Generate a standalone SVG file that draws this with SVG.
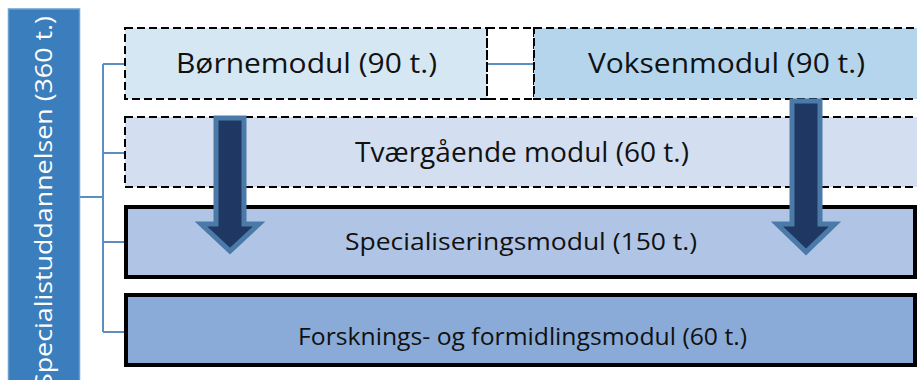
<svg xmlns="http://www.w3.org/2000/svg" width="917" height="380" viewBox="0 0 917 380">
<style>
.dash{stroke:#000;stroke-width:2;stroke-dasharray:8 4}
.solid{stroke:#000;stroke-width:4}
.lbl{font-family:"Open Sans","Noto Sans",sans-serif;fill:#111;text-anchor:middle}
.conn{fill:none;stroke:#5b8ec2;stroke-width:2}
.arrow{fill:#1f3763;stroke:#4c7aa8;stroke-width:5;stroke-linejoin:miter}
</style>
<rect width="917" height="380" fill="#fff"/>
<g id="connectors">
<path class="conn" d="M80 197 H103 M103 64 V332 M103 64 H125 M103 153 H125 M103 242 H125 M103 332 H125 M487 64 H534"/>
</g>
<g id="node-root">
<rect x="8.5" y="9" width="71" height="380" fill="#3a7ebd" stroke="#6a9fd0" stroke-width="1.5"/>
<text class="lbl" transform="translate(52,202) rotate(-90)" style="fill:#fff" font-size="24" textLength="372" lengthAdjust="spacingAndGlyphs" x="0" y="0">Specialistuddannelsen (360 t.)</text>
</g>
<g id="node-borne">
<rect class="dash" x="125" y="28" width="362" height="71" fill="#d6e7f4"/>
<text class="lbl" x="306.5" y="73" font-size="27" textLength="261" lengthAdjust="spacingAndGlyphs">Børnemodul (90 t.)</text>
</g>
<g id="node-gap">
<rect class="dash" x="487" y="28" width="47" height="71" fill="none"/>
</g>
<g id="node-voksen">
<rect class="dash" x="534" y="28" width="400" height="71" fill="#b5d5ec"/>
<text class="lbl" x="726.5" y="73" font-size="27" textLength="277" lengthAdjust="spacingAndGlyphs">Voksenmodul (90 t.)</text>
</g>
<g id="node-tvaer">
<rect class="dash" x="125" y="117" width="809" height="70" fill="#d3dff0"/>
<text class="lbl" x="522" y="162" font-size="27" textLength="334" lengthAdjust="spacingAndGlyphs">Tværgående modul (60 t.)</text>
</g>
<g id="node-special">
<rect class="solid" x="126" y="207" width="789" height="70" fill="#b0c5e5"/>
<text class="lbl" x="521" y="250" font-size="24" textLength="352" lengthAdjust="spacingAndGlyphs">Specialiseringsmodul (150 t.)</text>
</g>
<g id="node-forsk">
<rect class="solid" x="126" y="295" width="789" height="70" fill="#8aabd7"/>
<text class="lbl" x="522.5" y="345" font-size="24" textLength="449" lengthAdjust="spacingAndGlyphs">Forsknings- og formidlingsmodul (60 t.)</text>
</g>
<g id="arrows">
<path class="arrow" d="M216 118 H244 V224 H259 L230 251 L201 224 H216 Z"/>
<path class="arrow" d="M792 101 H820 V224 H835 L806 252 L777 224 H792 Z"/>
</g>
</svg>
